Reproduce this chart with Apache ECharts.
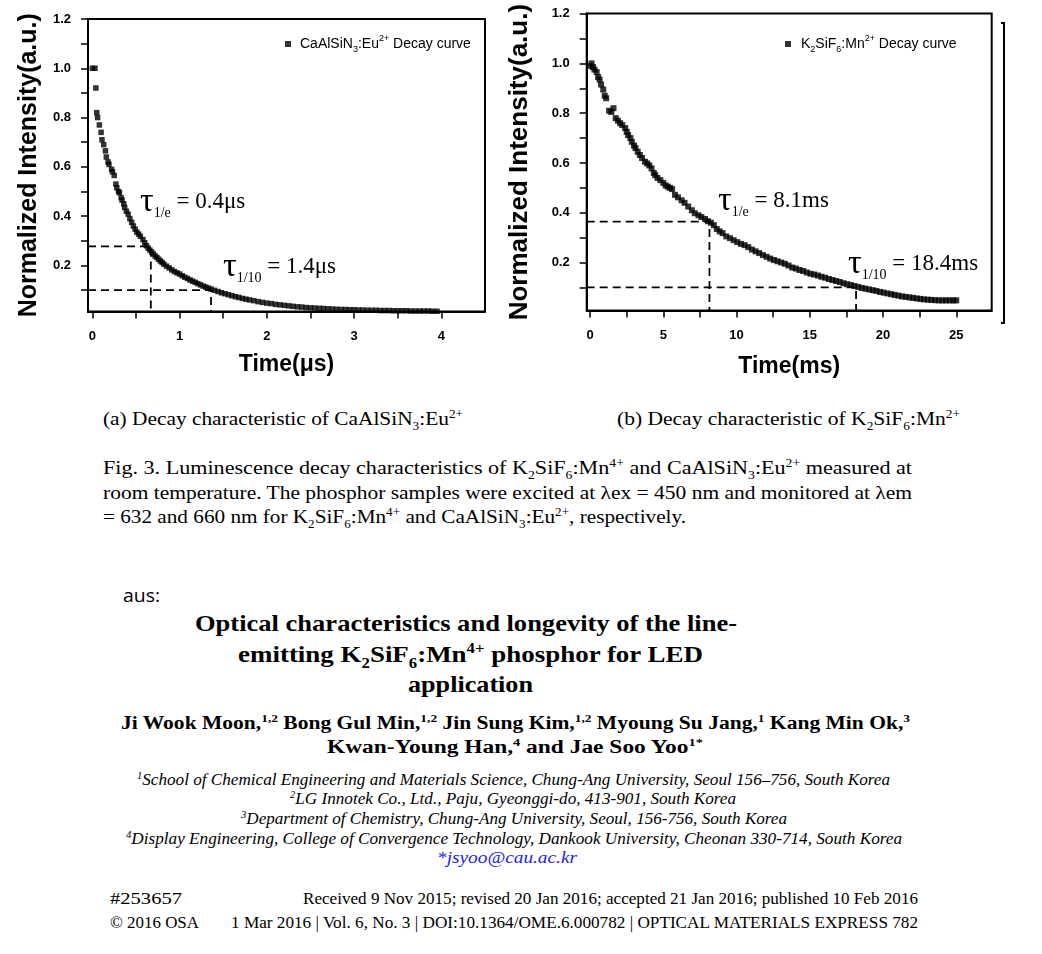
<!DOCTYPE html>
<html>
<head>
<meta charset="utf-8">
<script src="https://cdn.jsdelivr.net/npm/echarts@6/dist/echarts.min.js"></script>
<style>
html,body{margin:0;padding:0;background:#fff;width:1042px;height:954px;overflow:hidden;position:relative}
#chart{position:absolute;left:0;top:0;width:1042px;height:400px}
.t{position:absolute;white-space:nowrap;transform-origin:0 50%;color:#000;line-height:1}
.t sub,.t sup{font-size:0.62em;line-height:0}
.serif{font-family:"Liberation Serif","Times New Roman",serif}
.bold{font-weight:bold}
.ital{font-style:italic}
.sans{font-family:"Open Sans","Liberation Sans",sans-serif}
</style>
</head>
<body>
<div id="chart"></div>
<script>
// ---------- DATA ----------
// (a) CaAlSiN3:Eu2+ decay: [time (µs), normalized intensity]
const caalsinDecay = [
 [0,1.0],[0.03,1.0],[0.04,0.92],[0.05,0.82],[0.06,0.80],[0.08,0.77],[0.10,0.74],[0.11,0.71],[0.13,0.69],
 [0.15,0.665],[0.16,0.64],[0.18,0.62],[0.19,0.61],[0.22,0.59],[0.23,0.58],[0.25,0.565],[0.27,0.53],
 [0.28,0.515],[0.30,0.50],[0.31,0.495],[0.33,0.475],[0.34,0.465],[0.36,0.45],[0.37,0.435],[0.39,0.42],
 [0.41,0.408],[0.43,0.39],[0.45,0.375],[0.47,0.36],[0.49,0.347],[0.51,0.335],[0.53,0.327],[0.55,0.318],
 [0.58,0.305],[0.60,0.292],[0.62,0.28],[0.64,0.27],[0.66,0.262],[0.68,0.254],[0.70,0.246],[0.72,0.238],
 [0.74,0.232],[0.76,0.225],[0.78,0.218],[0.80,0.212],[0.82,0.205],[0.85,0.197],[0.88,0.19],[0.91,0.182],
 [0.94,0.175],[0.97,0.17],[1.00,0.165],[1.03,0.158],[1.06,0.152],[1.09,0.147],[1.12,0.141],[1.15,0.136],
 [1.18,0.131],[1.21,0.126],[1.24,0.121],[1.27,0.116],[1.30,0.112],[1.33,0.108],[1.36,0.104],[1.40,0.099],
 [1.44,0.094],[1.48,0.089],[1.52,0.085],[1.56,0.081],[1.60,0.077],[1.64,0.073],[1.68,0.070],[1.72,0.066],
 [1.76,0.063],[1.80,0.060],[1.85,0.057],[1.90,0.053],[1.95,0.050],[2.00,0.047],[2.05,0.045],[2.10,0.042],
 [2.15,0.040],[2.20,0.038],[2.25,0.036],[2.30,0.034],[2.35,0.032],[2.40,0.031],[2.45,0.029],[2.50,0.028],
 [2.55,0.027],[2.60,0.026],[2.65,0.025],[2.70,0.024],[2.75,0.023],[2.80,0.022],[2.85,0.021],[2.90,0.021],
 [2.95,0.020],[3.00,0.020],[3.05,0.019],[3.10,0.019],[3.15,0.018],[3.20,0.018],[3.25,0.018],[3.30,0.017],
 [3.35,0.017],[3.40,0.017],[3.45,0.016],[3.50,0.016],[3.55,0.016],[3.60,0.016],[3.65,0.015],[3.70,0.015],
 [3.75,0.015],[3.80,0.015],[3.85,0.015],[3.90,0.014],[3.95,0.014]
];
// (b) K2SiF6:Mn decay: [time (ms), normalized intensity]
const ksfDecay = [
 [0.0,0.99],[0.1,1.0],[0.2,0.985],[0.3,0.975],[0.45,0.965],[0.55,0.945],[0.65,0.935],[0.75,0.915],[0.9,0.895],
 [1.0,0.87],[1.1,0.86],[1.3,0.81],[1.45,0.805],[1.6,0.82],[1.75,0.78],[1.9,0.77],[2.05,0.76],[2.2,0.752],
 [2.4,0.74],[2.5,0.725],[2.6,0.712],[2.75,0.70],[2.85,0.685],[3.0,0.67],[3.1,0.66],[3.25,0.645],[3.4,0.632],
 [3.55,0.62],[3.75,0.605],[3.9,0.598],[4.05,0.59],[4.2,0.578],[4.35,0.56],[4.45,0.551],[4.6,0.54],[4.8,0.531],
 [5.0,0.52],[5.15,0.51],[5.3,0.505],[5.45,0.50],[5.6,0.495],[5.8,0.472],[6.0,0.462],[6.25,0.45],[6.45,0.44],
 [6.7,0.425],[6.95,0.41],[7.15,0.398],[7.4,0.39],[7.6,0.383],[7.85,0.375],[8.05,0.366],[8.25,0.36],[8.45,0.35],
 [8.65,0.335],[8.85,0.325],[9.05,0.318],[9.3,0.305],[9.55,0.298],[9.8,0.29],[10.05,0.282],[10.3,0.275],
 [10.55,0.27],[10.8,0.262],[11.05,0.252],[11.3,0.245],[11.55,0.238],[11.8,0.23],[12.05,0.223],[12.3,0.216],
 [12.55,0.21],[12.8,0.205],[13.05,0.20],[13.3,0.195],[13.55,0.188],[13.8,0.18],[14.05,0.176],[14.3,0.17],
 [14.55,0.166],[14.8,0.16],[15.05,0.155],[15.3,0.152],[15.55,0.148],[15.8,0.143],[16.05,0.139],[16.3,0.134],
 [16.55,0.13],[16.8,0.126],[17.05,0.122],[17.3,0.117],[17.55,0.113],[17.8,0.11],[18.05,0.106],[18.3,0.102],
 [18.55,0.098],[18.8,0.095],[19.05,0.092],[19.3,0.089],[19.55,0.086],[19.8,0.082],[20.05,0.079],[20.3,0.076],
 [20.55,0.073],[20.8,0.07],[21.05,0.067],[21.3,0.064],[21.55,0.062],[21.8,0.06],[22.05,0.058],[22.3,0.056],
 [22.55,0.054],[22.8,0.052],[23.05,0.051],[23.3,0.05],[23.55,0.049],[23.8,0.048],[24.05,0.048],[24.3,0.048],
 [24.55,0.048],[24.8,0.048],[25.0,0.048]
];
// lifetime guide points [time, intensity]
const caalsinTauE = [0.67, 0.277];
const caalsinTau10 = [1.36, 0.10];
const ksfTauE = [8.15, 0.364];
const ksfTau10 = [18.16, 0.10];

// axis ranges & tick values
const xRangeA = [-0.05, 4.5];
const yRangeA = [0.013, 1.2];
const xRangeB = [-0.23, 27.42];
const yRangeB = [0.007, 1.2];
const xTicksA = [0,0.5,1,1.5,2,2.5,3,3.5,4];
const xLabelsA = [0,1,2,3,4];
const xTicksB = [0,2.5,5,7.5,10,12.5,15,17.5,20,22.5,25];
const xLabelsB = [0,5,10,15,20,25];
const yTicks = [0.1,0.2,0.3,0.4,0.5,0.6,0.7,0.8,0.9,1.0,1.1,1.2];
const yLabels = [0.2,0.4,0.6,0.8,1.0,1.2];

// ---------- CHART ----------
const chart = echarts.init(document.getElementById('chart'));
const SANS = '"Liberation Sans", Arial, sans-serif';
const SERIF = '"Liberation Serif", "Times New Roman", serif';

function xAxisCfg(gi, range, ticks, labels, name, gap){
  return {
    type:'value', gridIndex:gi, min:range[0], max:range[1],
    name:name, nameLocation:'middle', nameGap:gap,
    nameTextStyle:{fontFamily:SANS, fontWeight:'bold', fontSize:23, color:'#000'},
    axisLine:{show:true, onZero:false, lineStyle:{color:'#000', width:2}},
    axisTick:{show:true, inside:false, length:7, lineStyle:{color:'#000', width:1.5}, customValues:ticks},
    axisLabel:{show:true, margin:18, fontFamily:SANS, fontWeight:'bold', fontSize:13, color:'#000', customValues:labels},
    splitLine:{show:false}
  };
}
function yAxisCfg(gi, range, name, gap, fs){
  return {
    type:'value', gridIndex:gi, min:range[0], max:range[1],
    name:name, nameLocation:'middle', nameGap:gap, nameRotate:90,
    nameTextStyle:{fontFamily:SANS, fontWeight:'bold', fontSize:fs, color:'#000'},
    axisLine:{show:true, onZero:false, lineStyle:{color:'#000', width:2}},
    axisTick:{show:true, inside:false, length:7, lineStyle:{color:'#000', width:1.5}, customValues:yTicks},
    axisLabel:{show:true, margin:17, fontFamily:SANS, fontWeight:'bold', fontSize:13, color:'#000',
      customValues:yLabels, formatter:v=>v.toFixed(1)},
    splitLine:{show:false}
  };
}
function guide(xi, yi, tau, xr, yr){
  return {
    type:'line', xAxisIndex:xi, yAxisIndex:yi, symbol:'none', silent:true, z:1,
    lineStyle:{color:'#000', width:1.8, type:[8,5]},
    data:[[xr[0], tau[1]], [tau[0], tau[1]], [tau[0], yr[0]]]
  };
}
const richLegend = {
  n:{fontFamily:SANS, fontSize:14, color:'#000', lineHeight:20},
  s:{fontFamily:SANS, fontSize:9, color:'#000', verticalAlign:'bottom'},
  p:{fontFamily:SANS, fontSize:9, color:'#000', verticalAlign:'top'}
};
const richTau = {
  t:{fontFamily:SERIF, fontSize:34, color:'#000', lineHeight:36},
  s:{fontFamily:SERIF, fontSize:14, color:'#000', verticalAlign:'bottom'},
  n:{fontFamily:SERIF, fontSize:23, color:'#000'}
};

chart.setOption({
  animation:false,
  backgroundColor:'#fff',
  grid:[
    {left:88, top:19, width:397, height:292.5, show:true, borderColor:'#000', borderWidth:2},
    {left:586.7, top:13.6, width:405, height:297, show:true, borderColor:'#000', borderWidth:2}
  ],
  xAxis:[
    xAxisCfg(0, xRangeA, xTicksA, xLabelsA, 'Time(μs)', 42),
    xAxisCfg(1, xRangeB, xTicksB, xLabelsB, 'Time(ms)', 45)
  ],
  yAxis:[
    yAxisCfg(0, yRangeA, 'Normalized Intensity(a.u.)', 46, 25),
    yAxisCfg(1, yRangeB, 'Normalized Intensity(a.u.)', 54, 26)
  ],
  legend:[
    {data:['CaAlSiN3:Eu2+ Decay curve'], left:280, top:29, icon:'rect', itemWidth:6, itemHeight:6,
     formatter:()=> '{n|CaAlSiN}{s|3}{n|:Eu}{p|2+}{n| Decay curve}',
     textStyle:{rich:richLegend, padding:[0,0,0,4]}, selectedMode:false},
    {data:['K2SiF6:Mn2+ Decay curve'], left:780, top:29, icon:'rect', itemWidth:6, itemHeight:6,
     formatter:()=> '{n|K}{s|2}{n|SiF}{s|6}{n|:Mn}{p|2+}{n| Decay curve}',
     textStyle:{rich:richLegend, padding:[0,0,0,5]}, selectedMode:false}
  ],
  series:[
    {name:'CaAlSiN3:Eu2+ Decay curve', type:'scatter', xAxisIndex:0, yAxisIndex:0, symbol:'rect', symbolSize:5.5,
     itemStyle:{color:'#000'}, data:caalsinDecay, z:3},
    guide(0,0,caalsinTauE,xRangeA,yRangeA),
    guide(0,0,caalsinTau10,xRangeA,yRangeA),
    {name:'K2SiF6:Mn2+ Decay curve', type:'scatter', xAxisIndex:1, yAxisIndex:1, symbol:'rect', symbolSize:6,
     itemStyle:{color:'#000'}, data:ksfDecay, z:3},
    guide(1,1,ksfTauE,xRangeB,yRangeB),
    guide(1,1,ksfTau10,xRangeB,yRangeB)
  ],
  graphic:[
    {type:'text', left:140, top:185, style:{text:'{t|τ}{s|1/e}{n| = 0.4μs}', rich:richTau}},
    {type:'text', left:223, top:250, style:{text:'{t|τ}{s|1/10}{n| = 1.4μs}', rich:richTau}},
    {type:'text', left:718, top:184, style:{text:'{t|τ}{s|1/e}{n| = 8.1ms}', rich:richTau}},
    {type:'text', left:848, top:247, style:{text:'{t|τ}{s|1/10}{n| = 18.4ms}', rich:richTau}},
    {type:'polyline', shape:{points:[[1001,23],[1004,23],[1004,323],[1001,323]]},
     style:{stroke:'#000', lineWidth:2, fill:null}}
  ]
});

// ---------- PAGE TEXT ----------
const textLines = [
 {c:'serif', s:19, x:103, y:418, w:360, h:'(a) Decay characteristic of CaAlSiN<sub>3</sub>:Eu<sup>2+</sup>'},
 {c:'serif', s:19, x:617, y:418, w:343, h:'(b) Decay characteristic of K<sub>2</sub>SiF<sub>6</sub>:Mn<sup>2+</sup>'},
 {c:'serif', s:19, x:103, y:467, w:809, h:'Fig. 3. Luminescence decay characteristics of K<sub>2</sub>SiF<sub>6</sub>:Mn<sup>4+</sup> and CaAlSiN<sub>3</sub>:Eu<sup>2+</sup> measured at'},
 {c:'serif', s:19, x:103, y:492, w:809, h:'room temperature. The phosphor samples were excited at λex = 450 nm and monitored at λem'},
 {c:'serif', s:19, x:103, y:516, w:583, h:'= 632 and 660 nm for K<sub>2</sub>SiF<sub>6</sub>:Mn<sup>4+</sup> and CaAlSiN<sub>3</sub>:Eu<sup>2+</sup>, respectively.'},
 {c:'sans', s:18, x:123, y:595, w:37, h:'aus:'},
 {c:'serif bold', s:24, x:195, y:623, w:542, h:'Optical characteristics and longevity of the line-'},
 {c:'serif bold', s:24, x:238, y:654, w:465, h:'emitting K<sub>2</sub>SiF<sub>6</sub>:Mn<sup>4+</sup> phosphor for LED'},
 {c:'serif bold', s:24, x:408, y:684, w:125, h:'application'},
 {c:'serif bold', s:18, x:121, y:723, w:789, h:'Ji Wook Moon,<sup>1,2</sup> Bong Gul Min,<sup>1,2</sup> Jin Sung Kim,<sup>1,2</sup> Myoung Su Jang,<sup>1</sup> Kang Min Ok,<sup>3</sup>'},
 {c:'serif bold', s:18, x:327, y:747, w:376, h:'Kwan-Young Han,<sup>4</sup> and Jae Soo Yoo<sup>1*</sup>'},
 {c:'serif ital', s:16, x:137, y:780, w:753, h:'<sup>1</sup>School of Chemical Engineering and Materials Science, Chung-Ang University, Seoul 156–756, South Korea'},
 {c:'serif ital', s:16, x:290, y:799, w:446, h:'<sup>2</sup>LG Innotek Co., Ltd., Paju, Gyeonggi-do, 413-901, South Korea'},
 {c:'serif ital', s:16, x:241, y:819, w:546, h:'<sup>3</sup>Department of Chemistry, Chung-Ang University, Seoul, 156-756, South Korea'},
 {c:'serif ital', s:16, x:126, y:839, w:776, h:'<sup>4</sup>Display Engineering, College of Convergence Technology, Dankook University, Cheonan 330-714, South Korea'},
 {c:'serif ital', s:16, x:437, y:858, w:140, h:'<span style="color:#2222ee">*jsyoo@cau.ac.kr</span>'},
 {c:'serif', s:16, x:110, y:899, w:72, h:'#253657'},
 {c:'serif', s:16, x:303, y:899, w:615, h:'Received 9 Nov 2015; revised 20 Jan 2016; accepted 21 Jan 2016; published 10 Feb 2016'},
 {c:'serif', s:16, x:110, y:923, w:89, h:'© 2016 OSA'},
 {c:'serif', s:16, x:231, y:923, w:687, h:'1 Mar 2016 | Vol. 6, No. 3 | DOI:10.1364/OME.6.000782 | OPTICAL MATERIALS EXPRESS 782'}
];
textLines.forEach(L=>{
  const d=document.createElement('div');
  d.className='t '+L.c;
  d.style.fontSize=L.s+'px';
  d.style.left=L.x+'px';
  d.style.top=(L.y-L.s/2)+'px';
  d.innerHTML=L.h;
  document.body.appendChild(d);
  const nw=d.getBoundingClientRect().width;
  d.style.transform='scaleX('+(L.w/nw).toFixed(4)+')';
});
</script>
</body>
</html>
